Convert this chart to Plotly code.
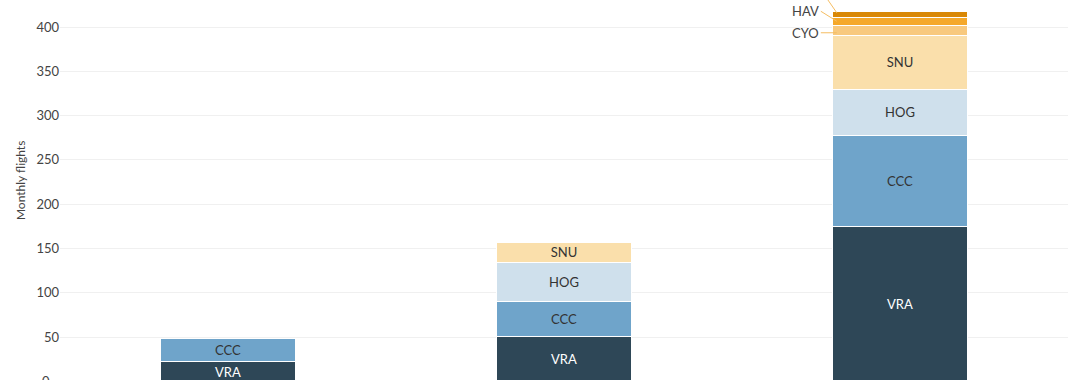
import plotly.graph_objects as go

categories = ["Phase 1", "Phase 2", "Phase 3"]
series_names = ["VRA", "CCC", "HOG", "SNU", "CYO", "HAV", "Other"]
vra = [22, 51, 175]
ccc = [26, 39, 102]
hog = [None, 44, 53]
snu = [None, 23, 60]
cyo = [None, None, 12]
hav = [None, None, 9]
other = [None, None, 7]
series_values = [vra, ccc, hog, snu, cyo, hav, other]

colors = ["#2e4757", "#6fa4ca", "#cfe0ec", "#fadfab", "#f8c97e", "#f5a82a", "#d98806"]
text_colors = ["#ffffff", "#333333", "#333333", "#333333", "#333333", "#333333", "#333333"]
inside_label = [True, True, True, True, False, False, False]
leader_color = "#f5bd62"

fig = go.Figure()
for name, vals, col, tcol, show in zip(series_names, series_values, colors, text_colors, inside_label):
    fig.add_trace(go.Bar(
        x=categories, y=vals, name=name, width=0.4,
        marker=dict(color=col, line=dict(color="#ffffff", width=1)),
        texttemplate=name if show else "",
        textposition="inside", insidetextanchor="middle",
        textangle=0, constraintext="none",
        textfont=dict(family="Lato", size=13, color=tcol),
        hoverinfo="skip",
    ))

# outside labels for the thin top segments of the last column
last = len(categories) - 1
cum = 0
mids = {}
for name, vals in zip(series_names, series_values):
    v = vals[last] or 0
    mids[name] = cum + v / 2
    cum += v
total_last = cum
tip_x = last - 0.188

outside = [("CYO", -16, 0, -2.5), ("HAV", -16, -10, 0)]
for name, ax, ay, dy in outside:
    fig.add_annotation(
        x=tip_x, y=mids[name] + dy, xref="x", yref="y",
        text=name, showarrow=True, arrowhead=0, arrowwidth=1,
        arrowcolor=leader_color, ax=ax, ay=ay, xanchor="right",
        font=dict(family="Lato", size=13, color="#444444"),
    )

# top segment: leader line runs off the top edge, its label sits above the page
fig.add_shape(
    type="line", xref="x", yref="y",
    xsizemode="pixel", xanchor=tip_x, x0=0, x1=-18,
    ysizemode="pixel", yanchor=mids["Other"] + 1.5, y0=0, y1=26,
    line=dict(color=leader_color, width=1), layer="above",
)
fig.add_annotation(
    x=tip_x, xref="x", xshift=-18, xanchor="right",
    y=1.03, yref="paper", yanchor="bottom",
    text="Other", showarrow=False,
    font=dict(family="Lato", size=13, color="#444444"),
)

# zero tick label (sits at the cut-off bottom edge)
fig.add_annotation(
    x=0, xref="paper", xanchor="right", xshift=-8,
    y=-0.0034, yref="paper", yanchor="middle",
    text="0", showarrow=False,
    font=dict(family="Lato", size=13, color="#444444"),
)

fig.add_annotation(
    x=-0.0397, y=0.526, xref="paper", yref="paper", xanchor="center",
    text="Monthly flights", textangle=-90, showarrow=False,
    font=dict(family="Lato", size=12, color="#444444"),
)

fig.update_layout(
    width=1080, height=380,
    margin=dict(l=60, r=12, t=0, b=0),
    barmode="stack", showlegend=False,
    plot_bgcolor="#ffffff", paper_bgcolor="#ffffff",
    font=dict(family="Lato", color="#444444"),
    xaxis=dict(showticklabels=False, showgrid=False, zeroline=False, showline=False),
    yaxis=dict(range=[1.47, 430.5], dtick=50, tick0=0, gridcolor="#f0f0f0",
               zeroline=False, showline=False, ticks="",
               tickfont=dict(family="Lato", size=13, color="#444444")),
)

fig.write_html("out.html")
